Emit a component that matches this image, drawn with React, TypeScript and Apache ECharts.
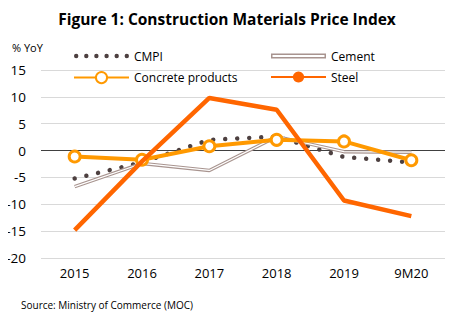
import React, { useEffect, useRef } from "react";
import * as echarts from "echarts";

const categories = ["2015", "2016", "2017", "2018", "2019", "9M20"];
const cmpi = [-5.2, -2.2, 2.0, 2.6, -1.2, -2.2];
const cement = [-6.7, -2.4, -3.7, 2.6, -0.2, -0.3];
const concrete = [-1.1, -1.7, 0.8, 2.0, 1.7, -1.8];
const steel = [-14.8, -2.0, 9.8, 7.6, -9.3, -12.2];

const FONT = "'Open Sans', 'Liberation Sans', sans-serif";
const cementIcon =
  "path://M0,0 L55,0 L55,5 L0,5 Z M1.5,1.5 L1.5,3.5 L53.5,3.5 L53.5,1.5 Z";
const dotXs = [2.2, 12.3, 22.4, 32.6, 42.7, 52.8];
const cmpiIcon =
  "path://M0,0 L0.01,0 L0.01,4.4 L0,4.4 Z M55,0 L55.01,0 L55.01,4.4 L55,4.4 Z " +
  dotXs
    .map((x) => `M${x - 2.2},2.2 A2.2,2.2 0 1,0 ${x + 2.2},2.2 A2.2,2.2 0 1,0 ${x - 2.2},2.2 Z`)
    .join(" ");

export default function App() {
  const ref = useRef<HTMLDivElement>(null);
  useEffect(() => {
    if (!ref.current) return;
    const chart = echarts.init(ref.current, undefined, { renderer: "svg" });
    chart.setOption({
      animation: false,
      backgroundColor: "#ffffff",
      textStyle: { fontFamily: FONT },
      title: [
        {
          text: "Figure 1: Construction Materials Price Index",
          left: "center",
          top: 6,
          textStyle: { fontFamily: FONT, fontSize: 15.5, fontWeight: "bold", color: "#000" },
        },
        {
          text: "% YoY",
          left: 7,
          top: 37,
          textStyle: { fontFamily: FONT, fontSize: 11, fontWeight: "normal", color: "#000" },
        },
        {
          text: "Source: Ministry of Commerce (MOC)",
          left: 16,
          top: 295,
          textStyle: { fontFamily: FONT, fontSize: 10, fontWeight: "normal", color: "#000" },
        },
      ],
      legend: [
        {
          orient: "vertical",
          left: 73,
          top: 50,
          padding: 0,
          itemWidth: 55,
          itemHeight: 14,
          itemGap: 9,
          textStyle: { fontFamily: FONT, fontSize: 12, color: "#000" },
          data: [
            { name: "CMPI", icon: cmpiIcon, itemStyle: { color: "#4d4040" } },
            { name: "Concrete products" },
          ],
        },
        {
          orient: "vertical",
          left: 270,
          top: 50,
          padding: 0,
          itemWidth: 55,
          itemHeight: 14,
          itemGap: 9,
          textStyle: { fontFamily: FONT, fontSize: 12, color: "#000" },
          data: [
            { name: "Cement", icon: cementIcon, itemStyle: { color: "#a8948f" } },
            { name: "Steel" },
          ],
        },
      ],
      grid: { left: 41, right: 9, top: 70, bottom: 63 },
      xAxis: {
        type: "category",
        data: categories,
        axisLine: { show: false },
        axisTick: { show: false },
        axisLabel: { fontFamily: FONT, fontSize: 13, color: "#000", margin: 8 },
      },
      yAxis: {
        type: "value",
        min: -20,
        max: 15,
        interval: 5,
        axisLine: { show: false },
        axisTick: { show: false },
        axisLabel: { fontFamily: FONT, fontSize: 13.5, color: "#000", margin: 15 },
        splitLine: { lineStyle: { color: "#d9d9d9", width: 1 } },
      },
      series: [
        {
          name: "CMPI",
          type: "line",
          data: cmpi,
          symbol: "none",
          color: "#4d4040",
          lineStyle: { color: "#4d4040", width: 4.5, type: [0.01, 12], cap: "round" },
          z: 2,
          markLine: {
            silent: true,
            symbol: "none",
            label: { show: false },
            lineStyle: { color: "#404040", width: 1, type: "solid" },
            data: [{ yAxis: 0 }],
            z: 1,
          },
        },
        {
          name: "Cement",
          type: "line",
          data: cement,
          symbol: "none",
          color: "#a8948f",
          lineStyle: { color: "#a8948f", width: 3.5 },
          z: 3,
        },
        {
          name: "CementInner",
          type: "line",
          data: cement,
          symbol: "none",
          color: "#ffffff",
          lineStyle: { color: "#ffffff", width: 1.2 },
          z: 4,
        },
        {
          name: "Concrete products",
          type: "line",
          data: concrete,
          symbol: "circle",
          symbolSize: 11,
          color: "#ff9900",
          itemStyle: { color: "#ffffff", borderColor: "#ff9900", borderWidth: 3 },
          lineStyle: { color: "#ff9900", width: 4 },
          z: 5,
        },
        {
          name: "Steel",
          type: "line",
          data: steel,
          symbol: "none",
          color: "#ff6600",
          lineStyle: { color: "#ff6600", width: 4.5 },
          z: 6,
        },
      ],
    });
    return () => chart.dispose();
  }, []);
  return <div ref={ref} style={{ width: 454, height: 321, margin: -8 }} />;
}
